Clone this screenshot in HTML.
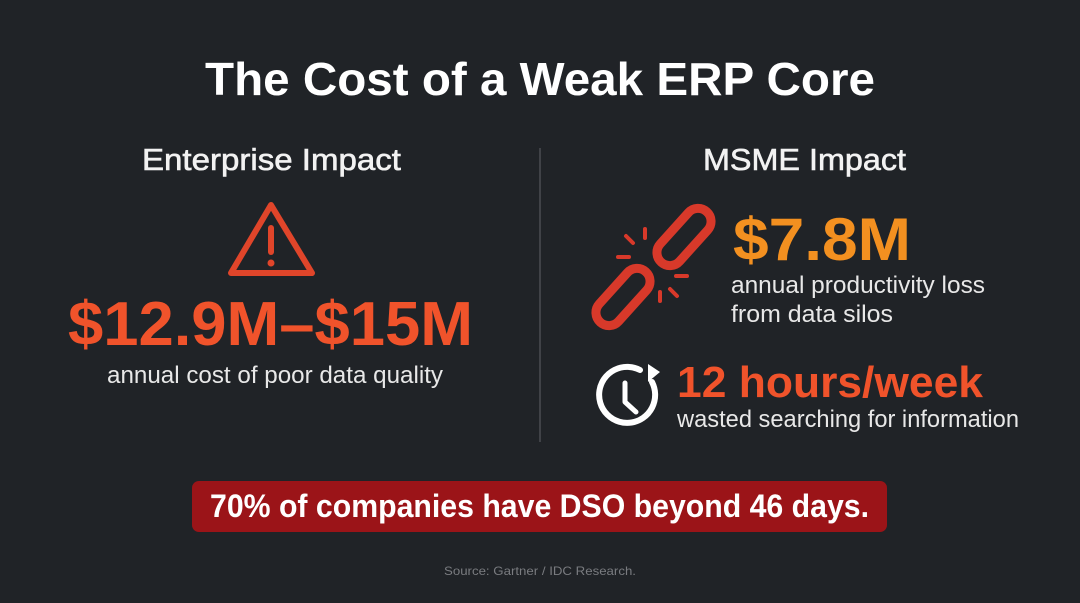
<!DOCTYPE html>
<html><head><style>
html,body{margin:0;padding:0;background:#202327;}
svg{display:block}
text{font-family:"Liberation Sans",sans-serif}
</style></head><body>
<svg width="1080" height="603" viewBox="0 0 1080 603" xmlns="http://www.w3.org/2000/svg">
<rect width="1080" height="603" fill="#202327"/>
<text x="205" y="95" font-size="46" font-weight="bold" fill="#fff" textLength="670" lengthAdjust="spacingAndGlyphs">The Cost of a Weak ERP Core</text>
<text x="142" y="170" font-size="31" fill="#f2f2f2" textLength="259" lengthAdjust="spacingAndGlyphs" stroke="#f2f2f2" stroke-width="0.6">Enterprise Impact</text>
<text x="703" y="170" font-size="31" fill="#f2f2f2" textLength="203" lengthAdjust="spacingAndGlyphs" stroke="#f2f2f2" stroke-width="0.6">MSME Impact</text>
<line x1="540" y1="148" x2="540" y2="442" stroke="#4a4d52" stroke-width="1.5"/>
<!-- warning -->
<path d="M271 205 L312 273 L231 273 Z" fill="none" stroke="#e0452a" stroke-width="6" stroke-linejoin="round"/>
<line x1="271" y1="228" x2="271" y2="252" stroke="#e0452a" stroke-width="6" stroke-linecap="round"/>
<circle cx="271" cy="263" r="3.5" fill="#e0452a"/>
<text x="68" y="345" font-size="62" font-weight="bold" fill="#f0532b" textLength="405" lengthAdjust="spacingAndGlyphs">$12.9M–$15M</text>
<text x="107" y="383" font-size="24" fill="#e8e8e8" textLength="336" lengthAdjust="spacingAndGlyphs">annual cost of poor data quality</text>
<!-- chain -->
<g stroke="#d8392a" stroke-width="9" fill="none">
<rect x="-13" y="-34" width="26" height="68" rx="13" transform="translate(684 237) rotate(42)"/>
<rect x="-13" y="-34" width="26" height="68" rx="13" transform="translate(623 297) rotate(42)"/>
</g>
<g stroke="#d8392a" stroke-width="4" stroke-linecap="round">
<line x1="626" y1="236" x2="633" y2="243"/><line x1="645" y1="229" x2="645" y2="238"/>
<line x1="618" y1="257" x2="629" y2="257"/><line x1="676" y1="276" x2="687" y2="276"/>
<line x1="660" y1="292" x2="660" y2="301"/><line x1="670" y1="289" x2="677" y2="296"/>
</g>
<text x="733" y="260" font-size="60" font-weight="bold" fill="#f39020" textLength="178" lengthAdjust="spacingAndGlyphs">$7.8M</text>
<text x="731" y="293" font-size="24" fill="#e8e8e8" textLength="254" lengthAdjust="spacingAndGlyphs">annual productivity loss</text>
<text x="731" y="322" font-size="24" fill="#e8e8e8" textLength="162" lengthAdjust="spacingAndGlyphs">from data silos</text>
<!-- clock -->
<path d="M652 382 A28 28 0 1 1 640 370" fill="none" stroke="#fff" stroke-width="6" stroke-linecap="round"/>
<path d="M648 364 L660 372 L648 382 Z" fill="#fff"/>
<path d="M625 383 L625 402 L636 412" fill="none" stroke="#fff" stroke-width="5" stroke-linecap="round" stroke-linejoin="round"/>
<text x="677" y="397" font-size="44" font-weight="bold" fill="#f0532b" textLength="306" lengthAdjust="spacingAndGlyphs">12 hours/week</text>
<text x="677" y="427" font-size="24" fill="#e8e8e8" textLength="342" lengthAdjust="spacingAndGlyphs">wasted searching for information</text>
<rect x="192" y="481" width="695" height="51" rx="7" fill="#9b1418"/>
<text x="210" y="517" font-size="32" font-weight="bold" fill="#fff" textLength="659" lengthAdjust="spacingAndGlyphs">70% of companies have DSO beyond 46 days.</text>
<text x="444" y="575" font-size="12" fill="#7a7c80" textLength="192" lengthAdjust="spacingAndGlyphs">Source: Gartner / IDC Research.</text>
</svg>
</body></html>
